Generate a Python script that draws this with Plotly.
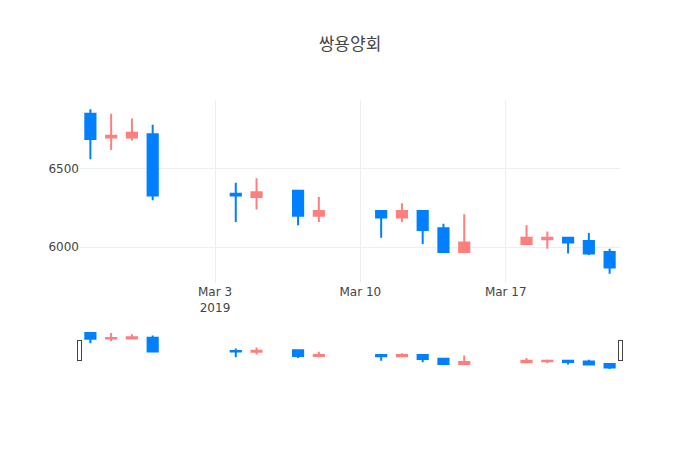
import plotly.graph_objects as go

dates = ["2019-02-25", "2019-02-26", "2019-02-27", "2019-02-28",
         "2019-03-04", "2019-03-05", "2019-03-07", "2019-03-08",
         "2019-03-11", "2019-03-12", "2019-03-13", "2019-03-14", "2019-03-15",
         "2019-03-18", "2019-03-19", "2019-03-20", "2019-03-21", "2019-03-22"]
open_ = [6850, 6700, 6700, 6720, 6340, 6320, 6360, 6200, 6230, 6190, 6230, 6120, 5970, 6020, 6050, 6060, 6040, 5970]
high = [6880, 6850, 6820, 6780, 6410, 6440, 6360, 6320, 6230, 6280, 6230, 6150, 6210, 6140, 6100, 6060, 6090, 5990]
low = [6560, 6620, 6680, 6300, 6160, 6240, 6140, 6160, 6060, 6160, 6020, 5970, 5970, 6020, 5990, 5960, 5950, 5830]
close = [6690, 6710, 6730, 6330, 6330, 6350, 6200, 6230, 6190, 6230, 6110, 5970, 6030, 6060, 6060, 6030, 5960, 5870]

title = "쌍용양회"
inc_color = "#FF7F7F"
dec_color = "#0080FF"

fig = go.Figure(go.Candlestick(
    x=dates, open=open_, high=high, low=low, close=close,
    increasing=dict(line=dict(color=inc_color), fillcolor=inc_color),
    decreasing=dict(line=dict(color=dec_color), fillcolor=dec_color),
))
fig.update_layout(
    template="none",
    title=dict(text=title, x=0.5, xanchor="center"),
    width=700, height=450,
    font=dict(family="'DejaVu Sans', 'Noto Sans CJK KR', sans-serif", color="#444"),
    xaxis=dict(rangeslider=dict(visible=True), gridcolor="#eee", showline=False, zeroline=False),
    yaxis=dict(gridcolor="#eee", showline=False, zeroline=False),
    plot_bgcolor="white", paper_bgcolor="white",
    showlegend=False,
)
fig.write_html("out.html", config={"displayModeBar": False},
               post_script="document.body.style.margin='0';")
